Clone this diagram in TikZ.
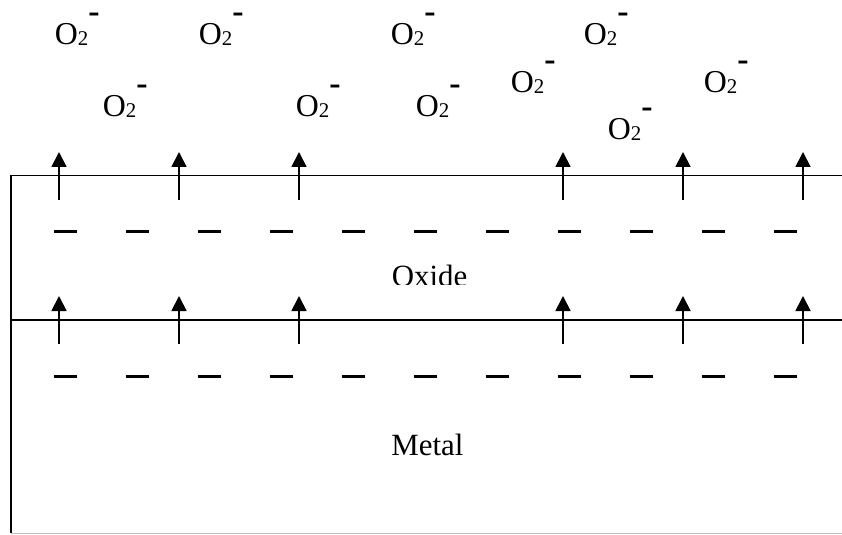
\documentclass[tikz,border=0pt]{standalone}
\usepackage{fontspec}
\setmainfont{Liberation Serif}
\usetikzlibrary{arrows.meta}
\newcommand{\superox}{O\raisebox{-1bp}{\fontsize{21}{21}\selectfont 2}\raisebox{22.5bp}{\fontsize{34}{34}\selectfont\bfseries -}}

\begin{document}
\begin{tikzpicture}[x=1bp, y=-1bp, >={Triangle[width=15bp,length=15bp]}, line width=1.8bp,
  ion/.style={anchor=base west, inner sep=0pt, font=\fontsize{32}{32}\selectfont},
  layer/.style={anchor=base, inner sep=0pt, font=\fontsize{31}{31}\selectfont}]
  \useasboundingbox (0,0) rectangle (842,535);
  % Layer boundaries
  \draw (11,175.5) -- (842,175.5);
  \draw (11,320) -- (842,320);
  \draw (11,175.5) -- (11,533);
  \draw[gray!50, line width=1bp] (11,533) -- (842,533);
  % Ion flux through oxide and interface
  \foreach \x in {59,179,299,563,683,803} {
    \draw[->] (\x,200) -- (\x,152);
    \draw[->] (\x,344) -- (\x,296);
  }
  % Negative charges
  \foreach \k in {0,...,10} {
    \draw[line width=3bp] (53.5+72*\k,232) -- (76.5+72*\k,232);
    \draw[line width=3bp] (53.5+72*\k,376) -- (76.5+72*\k,376);
  }
  % Adsorbed oxygen ions
  \foreach \x/\y [count=\i] in {54/45, 198/45, 390/45, 583/45, 102/117, 295/117,
                                415/117, 510/93, 607/140, 703/93}
    \node[ion] (ion\i) at (\x,\y) {\superox};
  % Layer names
  \begin{scope}
    \clip (0,0) rectangle (842,285);
    \node[layer] (oxide) at (429.5,287) {Oxide};
  \end{scope}
  \node[layer] (metal) at (427.5,455) {Metal};
\end{tikzpicture}
\end{document}
